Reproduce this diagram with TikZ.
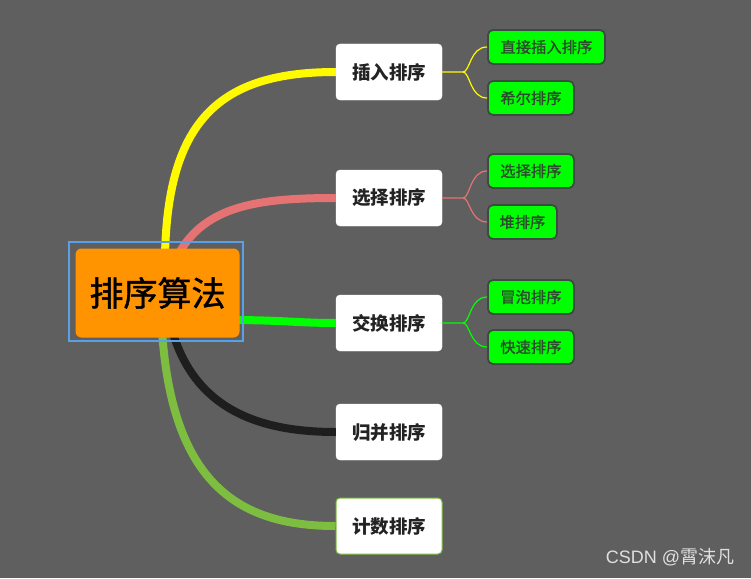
\documentclass[tikz,border=0pt]{standalone}
\usepackage{fontspec}
\newfontfamily\cjk{Noto Sans CJK SC}
\newfontfamily\cjkmed{Noto Sans CJK SC}[FakeBold=1.3]
\setmainfont{Liberation Sans}
\definecolor{bg}{RGB}{95,95,95}
\definecolor{orangeR}{RGB}{255,148,0}
\definecolor{blueR}{RGB}{90,160,230}
\definecolor{yel}{RGB}{255,250,0}
\definecolor{pinkc}{RGB}{230,115,115}
\definecolor{grn}{RGB}{0,255,0}
\definecolor{blk}{RGB}{30,30,30}
\definecolor{lgrn}{RGB}{125,190,65}
\definecolor{leafborder}{RGB}{60,75,65}
\definecolor{leaftext}{RGB}{45,75,45}
\definecolor{txt}{RGB}{35,35,35}
\begin{document}
\begin{tikzpicture}[x=1pt,y=-1pt,
  lvl/.style={draw=white,fill=white,rounded corners=4pt,minimum width=106pt,minimum height=56pt,inner sep=0pt,font=\cjk\fontsize{18.5}{20}\selectfont\bfseries,text=txt},
  leaf/.style={draw=leafborder,line width=1.8pt,fill=grn,rounded corners=5pt,minimum height=34pt,inner sep=0pt,anchor=west,font=\cjkmed\fontsize{15.3}{17}\selectfont,text=leaftext},
  main/.style={line width=8pt},
  br/.style={line width=1.2pt}]
\fill[bg] (0,0) rectangle (751,578);
\useasboundingbox (0,0) rectangle (751,578);
% level 1 nodes
\node[lvl] (n1) at (389,72) {插入排序};
\node[lvl] (n2) at (389,198) {选择排序};
\node[lvl] (n3) at (389,323) {交换排序};
\node[lvl] (n4) at (389,432) {归并排序};
\node[lvl,draw=lgrn,line width=1pt] (n5) at (389,526) {计数排序};
% coordinates for curve starts
\coordinate (s1) at (165,255);
\coordinate (s2) at (178,255);
\coordinate (s3) at (230,320);
\coordinate (s4) at (172,330);
\coordinate (s5) at (162,330);
% main curves
\draw[main,yel] (s1) .. controls (168,120) and (220,72) .. (n1.west);
\draw[main,pinkc] (s2) .. controls (205,205) and (260,198) .. (n2.west);
\draw[main,grn] (s3) .. controls (280,320) and (300,323) .. (n3.west);
\draw[main,blk] (s4) .. controls (195,410) and (260,432) .. (n4.west);
\draw[main,lgrn] (s5) .. controls (172,485) and (240,526) .. (n5.west);
% root
\node[draw=blueR,line width=1.5pt,minimum width=174pt,minimum height=99pt,inner sep=0pt] (rootframe) at (156,291.5) {};
\node[fill=orangeR,rounded corners=6pt,minimum width=164pt,minimum height=89pt,inner sep=0pt,font=\cjkmed\fontsize{34}{38}\selectfont,text=black] (root) at (157.5,293) {排序算法};
% leaves
\node[leaf,minimum width=117pt] (l1) at (487,47) {直接插入排序};
\node[leaf,minimum width=86pt] (l2) at (487,98) {希尔排序};
\node[leaf,minimum width=86pt] (l3) at (487,171) {选择排序};
\node[leaf,minimum width=69pt] (l4) at (487,222) {堆排序};
\node[leaf,minimum width=86pt] (l5) at (487,297) {冒泡排序};
\node[leaf,minimum width=86pt] (l6) at (487,347) {快速排序};
% branch connectors
\coordinate (j1) at (463,72);
\coordinate (j2) at (463,198);
\coordinate (j3) at (463,323);
\draw[br,yel] (n1.east) -- (j1) .. controls (470,72) and (470,47) .. (l1.west);
\draw[br,yel] (j1) .. controls (470,72) and (470,98) .. (l2.west);
\draw[br,pinkc] (n2.east) -- (j2) .. controls (470,198) and (470,171) .. (l3.west);
\draw[br,pinkc] (j2) .. controls (470,198) and (470,222) .. (l4.west);
\draw[br,grn] (n3.east) -- (j3) .. controls (470,323) and (470,297) .. (l5.west);
\draw[br,grn] (j3) .. controls (470,323) and (470,347) .. (l6.west);
% watermark
\node[text=white!88!black,font=\fontsize{18}{20}\selectfont] (wm) at (670,557) {CSDN @{\cjk 霄沫凡}};
\end{tikzpicture}
\end{document}
